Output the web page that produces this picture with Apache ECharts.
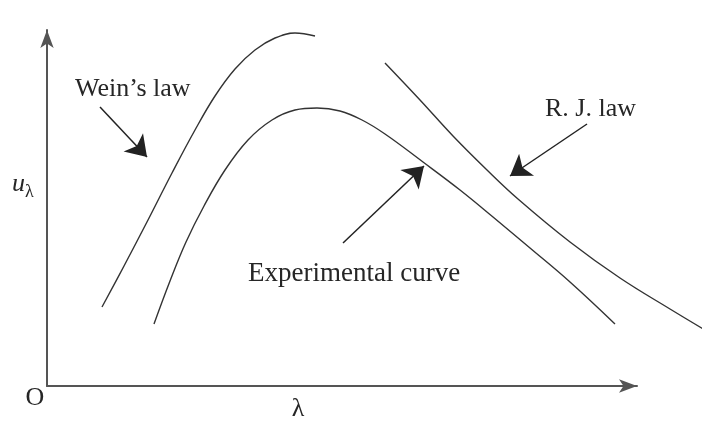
<!DOCTYPE html>
<html>
<head>
<meta charset="utf-8">
<title>Blackbody radiation: Wien's law, Rayleigh–Jeans law and experiment</title>
<script src="https://cdn.jsdelivr.net/npm/echarts@6/dist/echarts.min.js"></script>
<style>
  html, body { margin: 0; padding: 0; background: #fff; }
  #chart { width: 702px; height: 426px; }
</style>
</head>
<body>
<div id="chart"></div>
<script>
// Spectral energy density u_λ against wavelength λ (arbitrary units).
const weinLaw = [
  [55, 79], [77, 120], [101, 166], [125, 213], [148, 256], [168, 290],
  [188, 317], [208, 336], [228, 348], [248, 353], [268, 350]
];
const experimentalCurve = [
  [107, 62], [123, 105], [139, 144], [157, 180], [178, 216], [201, 246],
  [225, 266], [248, 276], [270, 278], [293, 275], [315, 266], [338, 252],
  [376, 224], [413, 196], [446, 169], [483, 138], [523, 104], [568, 62]
];
const rjLaw = [
  [338, 323], [373, 286], [406, 250], [440, 216], [471, 187], [523, 144],
  [573, 108], [623, 77], [663, 53]
];
// Pointer arrows: tail -> head, in the same units
const weinArrow = [[53, 279], [100, 229]];
const expArrow = [[296, 143], [377, 220]];
const rjArrow = [[540, 262], [463, 210]];

// Axis extents: the drawn axes stop short of the plotting area on the right
const axisXMax = 590;
const plotXMax = 655;
const yMax = 356;

const serif = '"Liberation Serif", "DejaVu Serif", serif';
const ink = '#262626';
const curveStyle = { color: '#333', width: 1.4 };

const hiddenAxis = {
  axisLine: { show: false }, axisTick: { show: false },
  axisLabel: { show: false }, splitLine: { show: false }
};
const arrowAxisLine = {
  show: true, onZero: false, symbol: ['none', 'arrow'], symbolSize: [10, 18],
  lineStyle: { color: '#555', width: 2 }
};

const chart = echarts.init(document.getElementById('chart'), null, { renderer: 'canvas' });

chart.setOption({
  animation: false,
  backgroundColor: '#fff',
  grid: [
    { left: 47, right: 702 - 637, top: 30, bottom: 40 },   // axes with arrowheads
    { left: 47, right: 0, top: 30, bottom: 40 }             // plotting area
  ],
  xAxis: [
    { gridIndex: 0, type: 'value', min: 0, max: axisXMax, axisLine: arrowAxisLine,
      axisTick: { show: false }, axisLabel: { show: false }, splitLine: { show: false } },
    Object.assign({ gridIndex: 1, type: 'value', min: 0, max: plotXMax }, hiddenAxis)
  ],
  yAxis: [
    { gridIndex: 0, type: 'value', min: 0, max: yMax, axisLine: arrowAxisLine,
      axisTick: { show: false }, axisLabel: { show: false }, splitLine: { show: false } },
    Object.assign({ gridIndex: 1, type: 'value', min: 0, max: yMax }, hiddenAxis)
  ],
  series: [
    { name: "Wein's law", type: 'line', xAxisIndex: 1, yAxisIndex: 1, data: weinLaw,
      smooth: 0.4, showSymbol: false, clip: false, lineStyle: curveStyle },
    { name: 'Experimental curve', type: 'line', xAxisIndex: 1, yAxisIndex: 1,
      data: experimentalCurve, smooth: 0.4, showSymbol: false, clip: false, lineStyle: curveStyle },
    { name: 'R. J. law', type: 'line', xAxisIndex: 1, yAxisIndex: 1, data: rjLaw,
      smooth: 0.4, showSymbol: false, clip: true, lineStyle: curveStyle },
    { name: 'pointers', type: 'lines', coordinateSystem: 'cartesian2d',
      xAxisIndex: 1, yAxisIndex: 1, silent: true,
      symbol: ['none', 'arrow'], symbolSize: [10, 20],
      lineStyle: { color: '#222', width: 1.5, opacity: 1, curveness: 0 },
      data: [
        { coords: weinArrow },
        { coords: expArrow },
        { coords: rjArrow }
      ] }
  ],
  graphic: [
    { type: 'text', x: 75, y: 89, style: { text: 'Wein’s law', font: '26px ' + serif, fill: ink,
      align: 'left', verticalAlign: 'middle' } },
    { type: 'text', x: 545, y: 109, style: { text: 'R. J. law', font: '26px ' + serif, fill: ink,
      align: 'left', verticalAlign: 'middle' } },
    { type: 'text', x: 248, y: 274, style: { text: 'Experimental curve', font: '27px ' + serif, fill: ink,
      align: 'left', verticalAlign: 'middle' } },
    { type: 'text', x: 35, y: 398, style: { text: 'O', font: '26px ' + serif, fill: ink,
      align: 'center', verticalAlign: 'middle' } },
    { type: 'text', x: 298, y: 409, style: { text: 'λ', font: '26px ' + serif, fill: ink,
      align: 'center', verticalAlign: 'middle' } },
    { type: 'text', x: 12, y: 184, style: {
      text: '{u|u}{s|λ}', fill: ink, align: 'left', verticalAlign: 'middle',
      rich: {
        u: { font: 'italic 26px ' + serif, fill: ink, verticalAlign: 'bottom' },
        s: { font: '18px ' + serif, fill: ink, verticalAlign: 'bottom', padding: [0, 0, -4, 0] }
      } } }
  ]
});
</script>
</body>
</html>
